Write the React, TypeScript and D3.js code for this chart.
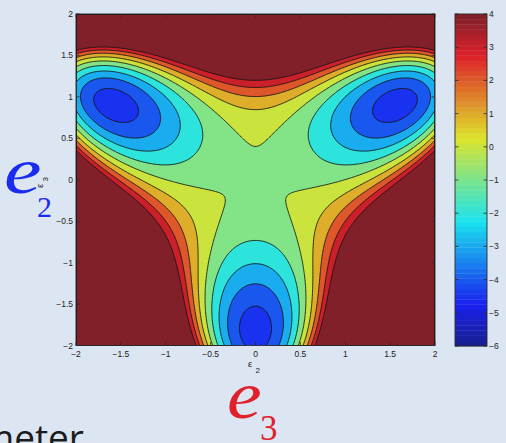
import React from 'react';
import * as d3 from 'd3';

// axis ticks
const e2Ticks = [-2, -1.5, -1, -0.5, 0, 0.5, 1, 1.5, 2];
const e3Ticks = [-2, -1.5, -1, -0.5, 0, 0.5, 1, 1.5, 2];
const contourLevels = [-4, -3, -2, -1, 0, 1, 2, 3, 4];
const colorbarTicks = [-6, -5, -4, -3, -2, -1, 0, 1, 2, 3, 4];
const colorDomain = [-6, 4];

// Landau free energy  f = A(e2²+e3²) + B(e3³ − 3·e3·e2²) + C(e2²+e3²)²
const landauA = -0.94;
const landauB = 1.96;
const landauC = 0.95;

const W = 506;
const H = 443;
const plot = { left: 76, right: 435, top: 14, bottom: 345.5 };
const bar = { left: 455, right: 487, top: 14, bottom: 346 };
const N = 240; // grid resolution

const tickFont = '"Liberation Sans", Arial, sans-serif';
const serif = '"Liberation Serif", "DejaVu Serif", serif';
const fmt = (v: number) => String(v).replace('-', '\u2212');

// MATLAB jet, slightly dulled like the screenshot
function jet(t: number) {
  const c = (v: number) => Math.max(0, Math.min(1, v));
  const r = c(1.5 - Math.abs(4 * t - 3));
  const g = c(1.5 - Math.abs(4 * t - 2));
  const b = c(1.5 - Math.abs(4 * t - 1));
  return d3.interpolateRgb(d3.rgb(r * 255, g * 255, b * 255), '#6e8ab8')(0.23);
}
function levelColor(v: number) {
  const k = Math.max(0, Math.min(63, Math.floor(((v - colorDomain[0]) / (colorDomain[1] - colorDomain[0])) * 64)));
  return jet((k + 0.5) / 64);
}

function landau(e2: number, e3: number) {
  const r2 = e2 * e2 + e3 * e3;
  return landauA * r2 + landauB * (e3 * e3 * e3 - 3 * e3 * e2 * e2) + landauC * r2 * r2;
}

export default function App() {
  const x = d3.scaleLinear().domain([-2, 2]).range([plot.left, plot.right]);
  const y = d3.scaleLinear().domain([-2, 2]).range([plot.bottom, plot.top]);
  const cy = d3.scaleLinear().domain(colorDomain).range([bar.bottom, bar.top]);

  const values = new Float64Array(N * N);
  for (let j = 0; j < N; j++) {
    for (let i = 0; i < N; i++) {
      const e2 = -2 + ((i + 0.5) * 4) / N;
      const e3 = 2 - ((j + 0.5) * 4) / N;
      values[j * N + i] = landau(e2, e3);
    }
  }
  const minVal = d3.min(values) as number;
  const bands = d3.contours().size([N, N]).thresholds(contourLevels)(Array.from(values));
  const proj = d3.geoTransform({
    point: function (px: number, py: number) {
      this.stream.point(x(-2 + (px * 4) / N), y(2 - (py * 4) / N));
    },
  });
  const path = d3.geoPath(proj);

  const barSteps = d3.range(64);
  const barH = (bar.bottom - bar.top) / 64;

  return (
    <svg width={W} height={H} style={{ position: 'absolute', left: 0, top: 0 }}>
      <rect width={W} height={H} fill="#dce6f2" />

      {/* slide annotations */}
      <text transform="translate(4,193) scale(1.28,1)" fontFamily={serif} fontStyle="italic" fontSize={66} fill="#1a2cf0">e</text>
      <text x={37} y={217} fontFamily={serif} fontSize={30} fill="#1a2cf0">2</text>
      <text transform="translate(227,418) scale(1.15,1)" fontFamily={serif} fontStyle="italic" fontSize={68} fill="#e0202a">e</text>
      <text x={260} y={440} fontFamily={serif} fontSize={35} fill="#e0202a">3</text>
      <text x={84} y={451} textAnchor="end" fontFamily='"Open Sans", sans-serif' fontSize={37} fill="#1c1c1c">parameter</text>

      <defs>
        <clipPath id="plotClip">
          <rect x={plot.left} y={plot.top} width={plot.right - plot.left} height={plot.bottom - plot.top} />
        </clipPath>
      </defs>

      <g clipPath="url(#plotClip)">
        <rect x={plot.left} y={plot.top} width={plot.right - plot.left} height={plot.bottom - plot.top} fill={levelColor(minVal)} />
        {bands.map((b) => (
          <path key={'f' + b.value} d={path(b as any) || ''} fill={levelColor(b.value)} stroke="none" />
        ))}
        {bands.map((b) => (
          <path key={'l' + b.value} d={path(b as any) || ''} fill="none" stroke="#141414" strokeWidth={1} strokeOpacity={0.85} />
        ))}
      </g>

      {/* axes box */}
      <rect x={plot.left} y={plot.top} width={plot.right - plot.left} height={plot.bottom - plot.top} fill="none" stroke="#2a2a2a" strokeWidth={0.9} />
      {e2Ticks.map((t) => (
        <g key={'xt' + t}>
          <line x1={x(t)} x2={x(t)} y1={plot.bottom} y2={plot.bottom - 3.5} stroke="#2a2a2a" strokeWidth={0.8} />
          <line x1={x(t)} x2={x(t)} y1={plot.top} y2={plot.top + 3.5} stroke="#2a2a2a" strokeWidth={0.8} />
          <text x={x(t)} y={357} textAnchor="middle" fontFamily={tickFont} fontSize={8.5} fill="#222">{fmt(t)}</text>
        </g>
      ))}
      {e3Ticks.map((t) => (
        <g key={'yt' + t}>
          <line x1={plot.left} x2={plot.left + 3.5} y1={y(t)} y2={y(t)} stroke="#2a2a2a" strokeWidth={0.8} />
          <line x1={plot.right} x2={plot.right - 3.5} y1={y(t)} y2={y(t)} stroke="#2a2a2a" strokeWidth={0.8} />
          <text x={73} y={y(t) + 3} textAnchor="end" fontFamily={tickFont} fontSize={8.5} fill="#222">{fmt(t)}</text>
        </g>
      ))}
      <text x={248} y={367} fontFamily={tickFont} fontSize={9.5} fill="#222">ε</text>
      <text x={255.5} y={373} fontFamily={tickFont} fontSize={8} fill="#222">2</text>
      <g transform="translate(43,188) rotate(-90)">
        <text x={0} y={0} fontFamily={tickFont} fontSize={9.5} fill="#222">ε</text>
        <text x={6.5} y={5} fontFamily={tickFont} fontSize={8} fill="#222">3</text>
      </g>

      {/* colorbar */}
      {barSteps.map((k) => (
        <rect key={'cb' + k} x={bar.left} y={bar.bottom - (k + 1) * barH} width={bar.right - bar.left} height={barH + 0.3} fill={jet((k + 0.5) / 64)} />
      ))}
      <rect x={bar.left} y={bar.top} width={bar.right - bar.left} height={bar.bottom - bar.top} fill="none" stroke="#2a2a2a" strokeWidth={0.9} />
      {colorbarTicks.map((t) => (
        <g key={'ct' + t}>
          <line x1={bar.left} x2={bar.left + 3.5} y1={cy(t)} y2={cy(t)} stroke="#2a2a2a" strokeWidth={0.8} />
          <line x1={bar.right} x2={bar.right - 3.5} y1={cy(t)} y2={cy(t)} stroke="#2a2a2a" strokeWidth={0.8} />
          <text x={489} y={cy(t) + 3} fontFamily={tickFont} fontSize={8.5} fill="#222">{fmt(t)}</text>
        </g>
      ))}
    </svg>
  );
}
